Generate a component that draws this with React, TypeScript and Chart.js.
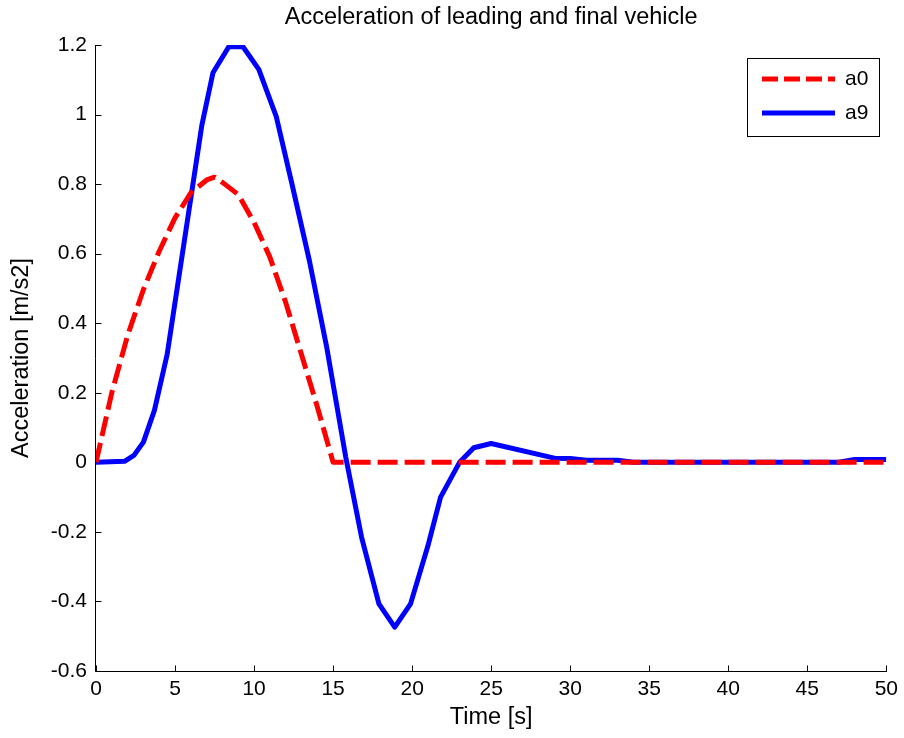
import React, { useEffect, useRef } from 'react';
import { Chart, registerables } from 'chart.js';

Chart.register(...registerables);

// ---- data ----
const chartTitle = 'Acceleration of leading and final vehicle';
const xTitle = 'Time [s]';
const yTitle = 'Acceleration [m/s2]';
const seriesNames = ['a0', 'a9'];

const a0Time = [0, 1, 2, 3, 4, 5, 6, 7, 7.5, 8, 9, 10, 11, 12, 13, 14, 15, 50];
const a0Values = [0, 0.2, 0.365, 0.497, 0.607, 0.703, 0.775, 0.812, 0.82, 0.805, 0.77, 0.69, 0.59, 0.46, 0.31, 0.16, 0, 0];

const a9Time = [0, 1.8, 2.4, 3.0, 3.7, 4.5, 6.7, 7.4, 8.4, 9.3, 10.3, 11.4, 12.4, 13.5, 14.6, 15.8, 16.8, 17.9, 18.9, 19.9, 21.0, 21.8, 23.0, 23.9, 25.0, 29.0, 30.0, 31.0, 33.0, 34.0, 47.0, 48.0, 50.0];
const a9Values = [0, 0.003, 0.02, 0.058, 0.15, 0.31, 0.97, 1.12, 1.195, 1.195, 1.13, 0.995, 0.8, 0.58, 0.33, 0.015, -0.215, -0.407, -0.474, -0.407, -0.24, -0.1, 0.0, 0.042, 0.054, 0.012, 0.011, 0.006, 0.006, 0, 0, 0.008, 0.008];

const xTicks = [0, 5, 10, 15, 20, 25, 30, 35, 40, 45, 50];
const xTickLabels = ['0', '5', '10', '15', '20', '25', '30', '35', '40', '45', '50'];
const yTicks = [-0.6, -0.4, -0.2, 0, 0.2, 0.4, 0.6, 0.8, 1, 1.2];
const yTickLabels = ['-0.6', '-0.4', '-0.2', '0', '0.2', '0.4', '0.6', '0.8', '1', '1.2'];

const FONT = '"Liberation Sans", Arial, Helvetica, sans-serif';
const RED = '#ff0000';
const BLUE = '#0000ff';

const decor = {
  id: 'decor',
  beforeDatasetsDraw(chart: any) {
    const { ctx, chartArea: a, scales } = chart;
    ctx.save();
    ctx.strokeStyle = '#000';
    ctx.lineWidth = 1;
    ctx.beginPath();
    const L = Math.round(a.left) - 0.5;
    const B = Math.round(a.bottom) + 0.5;
    ctx.moveTo(L, a.top);
    ctx.lineTo(L, B);
    ctx.lineTo(a.right + 0.5, B);
    yTicks.forEach((v) => {
      const p = Math.round(scales.y.getPixelForValue(v)) + 0.5;
      ctx.moveTo(L, p);
      ctx.lineTo(L + 6, p);
    });
    xTicks.forEach((v) => {
      const p = Math.round(scales.x.getPixelForValue(v)) + 0.5;
      ctx.moveTo(p, B);
      ctx.lineTo(p, B - 6);
    });
    ctx.stroke();
    ctx.restore();
  },
  afterDraw(chart: any) {
    const { ctx, chartArea: a } = chart;
    ctx.save();
    ctx.fillStyle = '#000';
    ctx.textAlign = 'center';
    ctx.textBaseline = 'middle';
    ctx.font = `23.5px ${FONT}`;
    const cx = (a.left + a.right) / 2;
    ctx.fillText(chartTitle, cx, 18);
    ctx.fillText(xTitle, cx, 718);
    ctx.save();
    ctx.translate(22, (a.top + a.bottom) / 2);
    ctx.rotate(-Math.PI / 2);
    ctx.fillText(yTitle, 0, 0);
    ctx.restore();

    // legend
    const bx = 747.5, by = 58.5, bw = 132, bh = 78;
    ctx.fillStyle = '#fff';
    ctx.fillRect(bx, by, bw, bh);
    ctx.strokeStyle = '#000';
    ctx.lineWidth = 1;
    ctx.strokeRect(bx, by, bw, bh);
    const rows = [79, 113];
    chart.data.datasets.forEach((ds: any, i: number) => {
      ctx.save();
      ctx.strokeStyle = ds.borderColor;
      ctx.lineWidth = ds.borderWidth;
      ctx.setLineDash(ds.borderDash && ds.borderDash.length ? [16, 6] : []);
      ctx.beginPath();
      ctx.moveTo(762, rows[i]);
      ctx.lineTo(835, rows[i]);
      ctx.stroke();
      ctx.restore();
      ctx.fillStyle = '#000';
      ctx.font = `21px ${FONT}`;
      ctx.textAlign = 'left';
      ctx.textBaseline = 'middle';
      ctx.fillText(ds.label, 845, rows[i]);
    });
    ctx.restore();
  },
};

export default function App() {
  const ref = useRef<HTMLCanvasElement | null>(null);
  useEffect(() => {
    const canvas = ref.current;
    if (!canvas) return;
    const chart = new Chart(canvas, {
      type: 'line',
      data: {
        datasets: [
          {
            label: seriesNames[0],
            data: a0Time.map((t, i) => ({ x: t, y: a0Values[i] })),
            borderColor: RED,
            backgroundColor: RED,
            borderWidth: 5,
            borderDash: [20, 7],
            borderCapStyle: 'butt',
            borderJoinStyle: 'round',
            pointRadius: 0,
            tension: 0,
            fill: false,
          },
          {
            label: seriesNames[1],
            data: a9Time.map((t, i) => ({ x: t, y: a9Values[i] })),
            borderColor: BLUE,
            backgroundColor: BLUE,
            borderWidth: 5,
            borderCapStyle: 'butt',
            borderJoinStyle: 'round',
            pointRadius: 0,
            tension: 0,
            fill: false,
          },
        ],
      },
      options: {
        responsive: false,
        animation: false,
        devicePixelRatio: 1,
        layout: { padding: { left: 0, top: 45, right: 16, bottom: 0 } },
        plugins: {
          legend: { display: false },
          title: { display: false },
          tooltip: { enabled: false },
        },
        scales: {
          x: {
            type: 'linear',
            min: 0,
            max: 50,
            grid: { display: false, drawTicks: false, tickLength: 0 },
            border: { display: false },
            afterBuildTicks: (s: any) => {
              s.ticks = xTicks.map((v) => ({ value: v }));
            },
            afterFit: (s: any) => {
              s.height = 67;
            },
            ticks: {
              autoSkip: false,
              maxRotation: 0,
              padding: 6,
              color: '#000',
              font: { family: FONT, size: 21 },
              callback: (v: any) => xTickLabels[xTicks.indexOf(Number(v))] ?? '',
            },
          },
          y: {
            type: 'linear',
            min: -0.6,
            max: 1.2,
            grid: { display: false, drawTicks: false, tickLength: 0 },
            border: { display: false },
            afterBuildTicks: (s: any) => {
              s.ticks = yTicks.map((v) => ({ value: v }));
            },
            afterFit: (s: any) => {
              s.width = 96;
            },
            ticks: {
              autoSkip: false,
              padding: 9,
              color: '#000',
              font: { family: FONT, size: 21 },
              callback: (v: any) => {
                const idx = yTicks.findIndex((t) => Math.abs(t - Number(v)) < 1e-9);
                return idx >= 0 ? yTickLabels[idx] : '';
              },
            },
          },
        },
      },
      plugins: [decor],
    } as any);
    return () => chart.destroy();
  }, []);

  return (
    <div style={{ position: 'fixed', left: 0, top: 0, width: 904, height: 738, background: '#fff' }}>
      <canvas ref={ref} width={904} height={738} style={{ display: 'block', width: 904, height: 738 }} />
    </div>
  );
}
